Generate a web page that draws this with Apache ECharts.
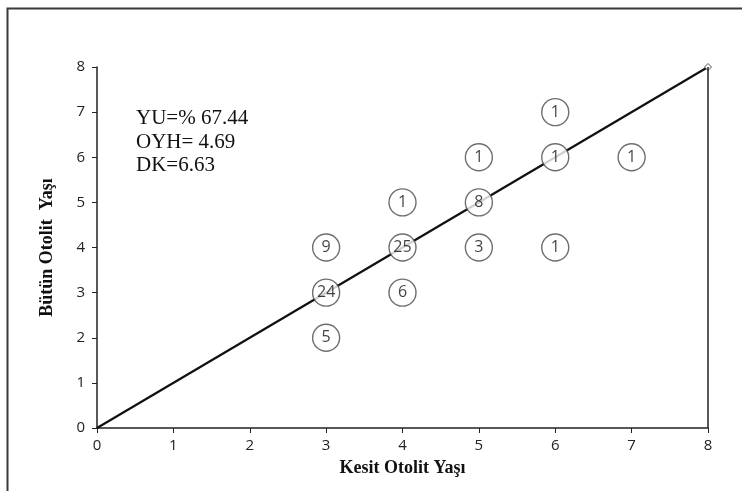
<!DOCTYPE html>
<html><head><meta charset="utf-8">
<script src="https://cdn.jsdelivr.net/npm/echarts@6/dist/echarts.min.js"></script>
<style>html,body{margin:0;padding:0;background:#fff}#c{width:742px;height:491px}</style>
</head><body><div id="c"></div>
<script>
const kesitAge = [3, 3, 3, 4, 4, 4, 5, 5, 5, 6, 6, 6, 7];
const butunAge = [4, 3, 2, 5, 4, 3, 6, 5, 4, 7, 6, 4, 6];
const counts   = [9, 24, 5, 1, 25, 6, 1, 8, 3, 1, 1, 1, 1];
const lineX = [0, 8];
const lineY = [0, 8];
const statsText = ['YU=% 67.44', 'OYH= 4.69', 'DK=6.63'];

const chart = echarts.init(document.getElementById('c'));
const pts = kesitAge.map((x, i) => [x, butunAge[i], counts[i]]);
chart.setOption({
  animation: false,
  backgroundColor: '#fff',
  grid: {left: 97, right: 34, top: 67, bottom: 63},
  graphic: [
    {type: 'rect', shape: {x: 7.5, y: 8.5, width: 800, height: 600},
     style: {fill: 'none', stroke: '#3a3a3a', lineWidth: 2}, z: 100},
    {type: 'text', left: 136, top: 107, z: 100,
     style: {text: statsText.join('\n'), font: '21px "Liberation Serif"', fill: '#111', lineHeight: 23.5}}
  ],
  xAxis: {
    type: 'value', min: 0, max: 8, interval: 1,
    name: 'Kesit Otolit Yaşı', nameLocation: 'middle', nameGap: 31,
    nameTextStyle: {fontFamily: 'Liberation Serif', fontWeight: 'bold', fontSize: 18, color: '#111'},
    axisLine: {lineStyle: {color: '#222', width: 1.5}},
    axisTick: {show: true, length: 5, lineStyle: {color: '#222'}},
    axisLabel: {fontFamily: 'Open Sans', fontSize: 15, color: '#222', margin: 10},
    splitLine: {show: false}
  },
  yAxis: {
    type: 'value', min: 0, max: 8, interval: 1,
    name: 'Bütün Otolit  Yaşı', nameLocation: 'middle', nameGap: 41,
    nameTextStyle: {fontFamily: 'Liberation Serif', fontWeight: 'bold', fontSize: 18, color: '#111'},
    axisLine: {show: true, lineStyle: {color: '#222', width: 1.5}},
    axisTick: {show: true, length: 5, lineStyle: {color: '#222'}},
    axisLabel: {fontFamily: 'Open Sans', fontSize: 15, color: '#222', margin: 12},
    splitLine: {show: false}
  },
  series: [
    {type: 'line',
     data: [
       {value: [lineX[0], lineY[0]], symbol: 'none'},
       {value: [lineX[1], lineY[1]], symbol: 'diamond'}
     ],
     lineStyle: {color: '#111', width: 2.2},
     showSymbol: true, symbolSize: 7,
     itemStyle: {color: '#fff', borderColor: '#555', borderWidth: 1},
     z: 2, silent: true,
     markLine: {silent: true, symbol: 'none', label: {show: false},
       lineStyle: {color: '#222', width: 1.5, type: 'solid'},
       data: [[{coord: [8, 0]}, {coord: [8, 8]}]]}
    },
    {type: 'scatter', data: pts, symbol: 'circle', symbolSize: 27, z: 5,
     itemStyle: {color: '#fff', borderColor: '#4a4a4a', borderWidth: 1.4},
     label: {show: true, position: 'inside', formatter: p => p.data[2],
       fontFamily: 'Open Sans', fontSize: 16, color: '#111'}
    }
  ]
});
</script></body></html>
